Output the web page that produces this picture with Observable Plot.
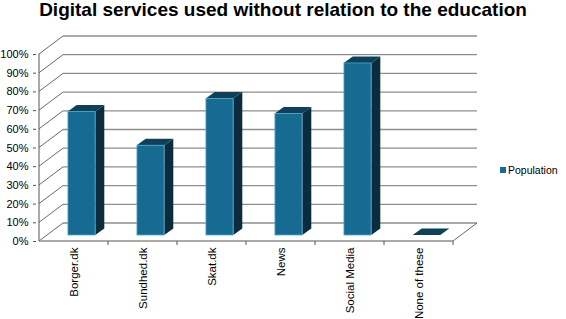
<!DOCTYPE html>
<html>
<head>
<meta charset="utf-8">
<script src="https://cdn.jsdelivr.net/npm/d3@7"></script>
<script src="https://cdn.jsdelivr.net/npm/@observablehq/plot@0.6"></script>
<style>
  body { margin: 0; background: #fff; font-family: "Liberation Sans", Arial, sans-serif; }
  #wrap { position: relative; width: 566px; height: 319px; overflow: hidden; background: #fff; }
  #title { position: absolute; left: 0; top: 0px; width: 566px; text-align: center; font-weight: bold; font-size: 19px; line-height: 19px; color: #000; white-space: nowrap; z-index: 2; }
  #chart { position: absolute; left: 0; top: 30px; }
  #legend { position: absolute; left: 500px; top: 164px; font-size: 10.5px; color: #000; display: flex; align-items: center; }
  #legend .sw { width: 6px; height: 6px; margin-right: 2px; }
  svg { display: block; }
</style>
</head>
<body>
<div id="wrap">
  <div id="title"></div>
  <div id="chart"></div>
  <div id="legend"></div>
</div>
<script>
const titleText = "Digital services used without relation to the education";
const categories = ["Borger.dk", "Sundhed.dk", "Skat.dk", "News", "Social Media", "None of these"];
const values = [66, 48, 73, 65, 92, 0];
const yTicks = [0, 10, 20, 30, 40, 50, 60, 70, 80, 90, 100];
const seriesName = "Population";

const frontColor = "#176a91";
const sideColor = "#0b2c3e";
const topColor = "#0e4059";
const gridColor = "#8e8e8e";

const data = categories.map((c, i) => ({category: c, value: values[i]}));

// depth offsets (pixels)
const DX = 24, DY = -18;   // wall depth
const BX = 8, BY = -6;     // bar front face offset into the depth
const SX = 9, SY = -6.5;   // bar depth

function walls(index, {x, y}) {
  const bw = x.bandwidth();
  const xs = categories.map(c => x(c));
  const x0 = xs[0], x1 = xs[xs.length - 1] + bw;
  const y0 = y(0), yTop = y(yTicks[yTicks.length - 1]);
  const g = d3.create("svg:g").attr("fill", "none");
  for (const t of yTicks) {
    g.append("line").attr("x1", x0 + DX).attr("x2", x1 + DX)
      .attr("y1", y(t) + DY).attr("y2", y(t) + DY)
      .attr("stroke", gridColor).attr("stroke-width", 1.3);
    g.append("line").attr("x1", x0).attr("y1", y(t))
      .attr("x2", x0 + DX).attr("y2", y(t) + DY)
      .attr("stroke", "#6a6a6a").attr("stroke-width", 1);
  }
  g.append("line").attr("x1", x0).attr("x2", x1).attr("y1", y0).attr("y2", y0)
    .attr("stroke", gridColor).attr("stroke-width", 1.3);
  g.append("line").attr("x1", x1).attr("y1", y0).attr("x2", x1 + DX).attr("y2", y0 + DY)
    .attr("stroke", "#6a6a6a").attr("stroke-width", 1);
  g.append("line").attr("x1", x0).attr("x2", x0).attr("y1", y0).attr("y2", yTop)
    .attr("stroke", "#555").attr("stroke-width", 1);
  const bounds = xs.slice(1).concat([x1]);
  for (const xb of bounds) {
    g.append("line").attr("x1", xb).attr("x2", xb).attr("y1", y0).attr("y2", y0 + 4)
      .attr("stroke", "#555").attr("stroke-width", 1);
  }
  return g.node();
}

function barSides(index, {x, y}) {
  const bw = x.bandwidth();
  const g = d3.create("svg:g");
  for (const d of data) {
    const left = x(d.category) + bw * 0.3 + BX;
    const right = left + bw * 0.4;
    const top = y(d.value) + BY, bot = y(0) + BY;
    g.append("path")
      .attr("d", `M${right},${bot}L${right + SX},${bot + SY}L${right + SX},${top + SY}L${right},${top}Z`)
      .attr("fill", sideColor);
    g.append("path")
      .attr("d", `M${left},${top}L${right},${top}L${right + SX},${top + SY}L${left + SX},${top + SY}Z`)
      .attr("fill", topColor);
  }
  return g.node();
}

const bandW = (455 - 36) / categories.length;

const chart = Plot.plot({
  width: 566,
  height: 289,
  marginLeft: 36,
  marginRight: 111,
  marginTop: 24,
  marginBottom: 78,
  style: {fontFamily: "'Liberation Sans', Arial, sans-serif", fontSize: "11px", background: "#fff", overflow: "visible"},
  x: {type: "band", domain: categories, padding: 0, axis: null},
  y: {domain: [0, 100], axis: null},
  marks: [
    walls,
    barSides,
    Plot.barY(data, {
      x: "category", y: "value",
      fill: frontColor, stroke: "#4ea7cc", strokeWidth: 0.8,
      insetLeft: bandW * 0.3, insetRight: bandW * 0.3,
      dx: BX, dy: BY
    }),
    Plot.axisY(yTicks, {
      tickFormat: d => d + "%", tickSize: 3, tickPadding: 5,
      fontSize: 11, fill: "#000", stroke: "#555", label: null
    }),
    Plot.axisX(categories, {
      tickRotate: -90, tickSize: 0, tickPadding: 6,
      fontSize: 11.5, fill: "#000", label: null
    })
  ]
});

document.getElementById("title").textContent = titleText;
document.getElementById("chart").appendChild(chart);
const lg = document.getElementById("legend");
lg.innerHTML = `<span class="sw" style="background:${frontColor}"></span><span>${seriesName}</span>`;
</script>
</body>
</html>
